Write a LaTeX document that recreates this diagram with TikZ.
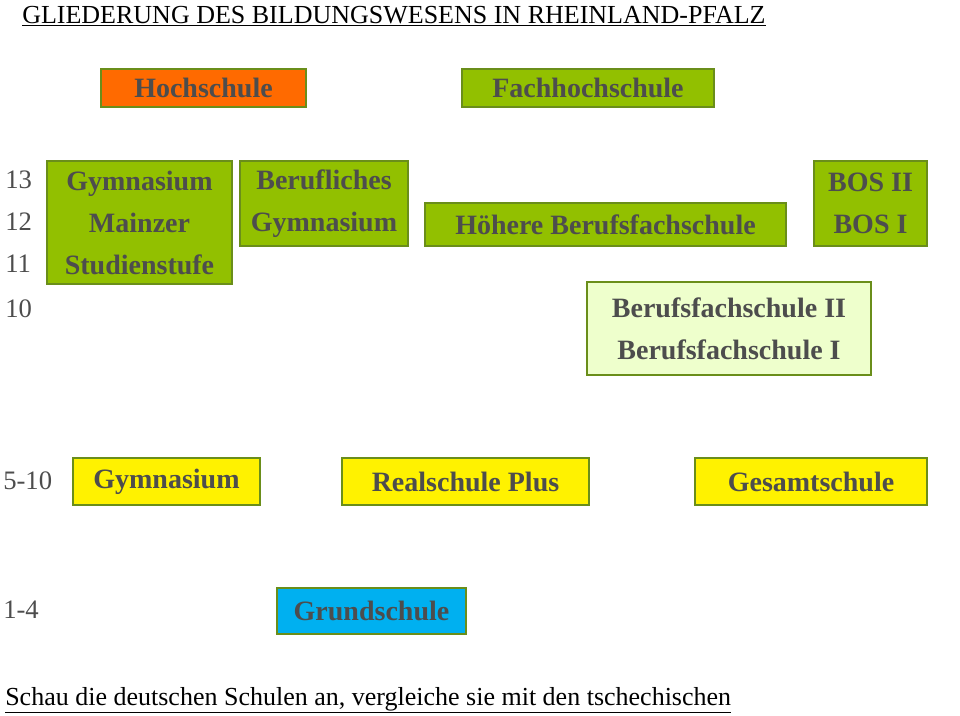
\documentclass[tikz,border=0pt]{standalone}
\usepackage{fontspec}
\setmainfont{Liberation Serif}
\definecolor{boxgreen}{HTML}{92C000}
\definecolor{edgegreen}{HTML}{6A8E1A}
\definecolor{hochorange}{HTML}{FF6A00}
\definecolor{palegreen}{HTML}{EEFFCC}
\definecolor{grundblue}{HTML}{00B0F0}
\definecolor{textgray}{HTML}{4D4D4D}
\tikzstyle{school} = [rectangle, draw=edgegreen, line width=2pt, fill=boxgreen, text=textgray, font=\fontsize{21}{31.5}\selectfont\bfseries, align=center, inner sep=0pt]
\tikzstyle{yellowbox} = [school, fill=yellow]
\tikzstyle{grade} = [anchor=west, text=textgray, font=\fontsize{20}{24}\selectfont, inner sep=0pt]

\begin{document}
\begin{tikzpicture}[x=0.75pt, y=-0.75pt]
  \useasboundingbox (0,0) rectangle (960,715);
  \node (TITLE) [anchor=base west, inner sep=0pt, font=\fontsize{19.5}{24}\selectfont] at (22,23) {\underline{GLIEDERUNG DES BILDUNGSWESENS IN RHEINLAND-PFALZ}};

  \node (HOCH) [school, fill=hochorange, minimum width=153.75pt, minimum height=28.5pt] at (203.5,88) {Hochschule};
  \node (FACH) [school, minimum width=189pt, minimum height=28.5pt] at (588,88) {Fachhochschule};

  \node (G13) [grade] at (5,180) {13};
  \node (G12) [grade] at (5,222) {12};
  \node (G11) [grade] at (5,264) {11};
  \node (G10) [grade] at (5,309) {10};
  \node (G510) [grade] at (3,481) {5-10};
  \node (G14) [grade] at (3,610) {1-4};

  \node (MSS) [school, minimum width=138.75pt, minimum height=92.25pt] at (139.5,222.5) {Gymnasium\\Mainzer\\Studienstufe};
  \node (BGYM) [school, minimum width=126pt, minimum height=63.75pt] at (324,203.5) {Berufliches\\Gymnasium};
  \node (HBFS) [school, minimum width=270.75pt, minimum height=32.25pt] at (605.5,224.5) {Höhere Berufsfachschule};
  \node (BOS) [school, minimum width=84.75pt, minimum height=63.75pt] at (870.5,203.5) {\hfill BOS II\\BOS I};
  \node (BFS) [school, fill=palegreen, minimum width=213pt, minimum height=69.75pt] at (729,328.5) {Berufsfachschule II\\Berufsfachschule I};

  \node (GYM) [yellowbox, minimum width=140.25pt, minimum height=35.25pt] at (166.5,481.5) {Gymnasium};
  \node (RSP) [yellowbox, minimum width=185.25pt, minimum height=35.25pt] at (465.5,481.5) {Realschule Plus};
  \node (GES) [yellowbox, minimum width=174pt, minimum height=35.25pt] at (811,481.5) {Gesamtschule};

  \node (GRUND) [school, fill=grundblue, minimum width=141.75pt, minimum height=34.5pt] at (371.5,611) {Grundschule};

  \node (NOTE) [anchor=base west, inner sep=0pt, font=\fontsize{19.5}{24}\selectfont] at (5,705) {\underline{Schau die deutschen Schulen an, vergleiche sie mit den tschechischen}};
\end{tikzpicture}
\end{document}
